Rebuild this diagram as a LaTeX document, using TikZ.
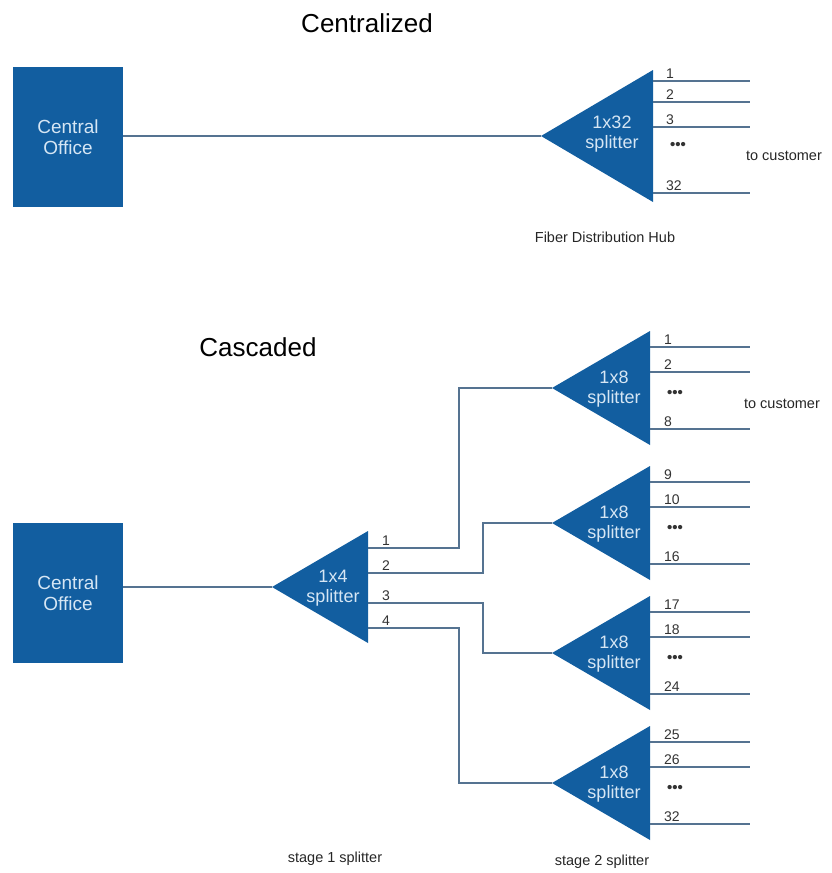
\documentclass[tikz,border=0pt]{standalone}
\usepackage{fontspec}
\setmainfont{Liberation Sans}
\definecolor{splitblue}{RGB}{18,94,160}
\definecolor{fibergray}{RGB}{85,115,145}
\definecolor{paleblue}{RGB}{214,230,244}

\begin{document}
\begin{tikzpicture}[x=1pt, y=-1pt,
    office/.style={fill=splitblue, minimum width=110pt, minimum height=140pt, text=paleblue, align=center, font=\fontsize{19}{21}\selectfont},
    splitbody/.style={fill=splitblue},
    splittext/.style={text=paleblue, align=center, font=\fontsize{18}{20}\selectfont},
    fiber/.style={draw=fibergray, line width=1.2pt},
    port/.style={anchor=base west, inner sep=0pt, font=\fontsize{14}{14}\selectfont, text=black!80},
    moredots/.style={inner sep=0pt, font=\fontsize{15}{15}\bfseries\selectfont, text=black!80},
    title/.style={font=\fontsize{26}{30}\selectfont},
    caption/.style={text=black!85, font=\fontsize{14.5}{16}\selectfont}]
      \useasboundingbox (0,0) rectangle (832,873);

      % centralized
      \node[title] (cent) at (367,23) {Centralized};
      \node[office] (co1) at (68,137) {Central\\Office};
      \coordinate (hubin) at (541,136);
      \fill[splitbody] (hubin) -- (653,70) -- (653,202) -- cycle;
      \node[splittext] (hub) at (612,134) {1x32\\splitter};
      \draw[fiber] (co1.east |- hubin) -- (hubin);
      \foreach \dy/\lab in {-55/1, -34/2, -9/3, 57/32} {
         \draw[fiber] (653,136+\dy) -- (750,136+\dy);
         \node[port] at (666,133+\dy) {\lab};
      }
      \node[moredots] (hubdots) at (678,146) {•••};
      \node[caption] (cust1) at (784,156) {to customer};
      \node[caption] (fdh) at (605,237) {Fiber Distribution Hub};

      % cascaded
      \node[title] (casc) at (258,347) {Cascaded};
      \node[office] (co2) at (68,593) {Central\\Office};
      \coordinate (s1in) at (272,587);
      \fill[splitbody] (s1in) -- (368,531) -- (368,643) -- cycle;
      \node[splittext] (s1) at (333,588) {1x4\\splitter};
      \draw[fiber] (co2.east |- s1in) -- (s1in);

      \foreach \i/\y/\a/\b/\c in {1/388/1/2/8, 2/523/9/10/16, 3/653/17/18/24, 4/783/25/26/32} {
         \coordinate (s2in\i) at (552,\y);
         \fill[splitbody] (s2in\i) -- (650,\y-57) -- (650,\y+57) -- cycle;
         \node[splittext] (s2\i) at (614,\y+1) {1x8\\splitter};
         \foreach \dy/\lab in {-41/\a, -16/\b, 41/\c} {
            \draw[fiber] (650,\y+\dy) -- (750,\y+\dy);
            \node[port] at (664,\y+\dy-3) {\lab};
         }
         \node[moredots] at (675,\y+6) {•••};
      }

      \foreach \n/\y/\x in {1/548/459, 2/573/483, 3/603/483, 4/628/459} {
         \coordinate (o\n) at (368,\y);
         \node[port] at (382,\y-3) {\n};
         \draw[fiber] (o\n) -- (\x,\y) |- (s2in\n);
      }

      \node[caption] (cust2) at (782,404) {to customer};
      \node[caption] (stage1) at (335,859) {stage 1 splitter};
      \node[caption] (stage2) at (602,862) {stage 2 splitter};
   \end{tikzpicture}
\end{document}
